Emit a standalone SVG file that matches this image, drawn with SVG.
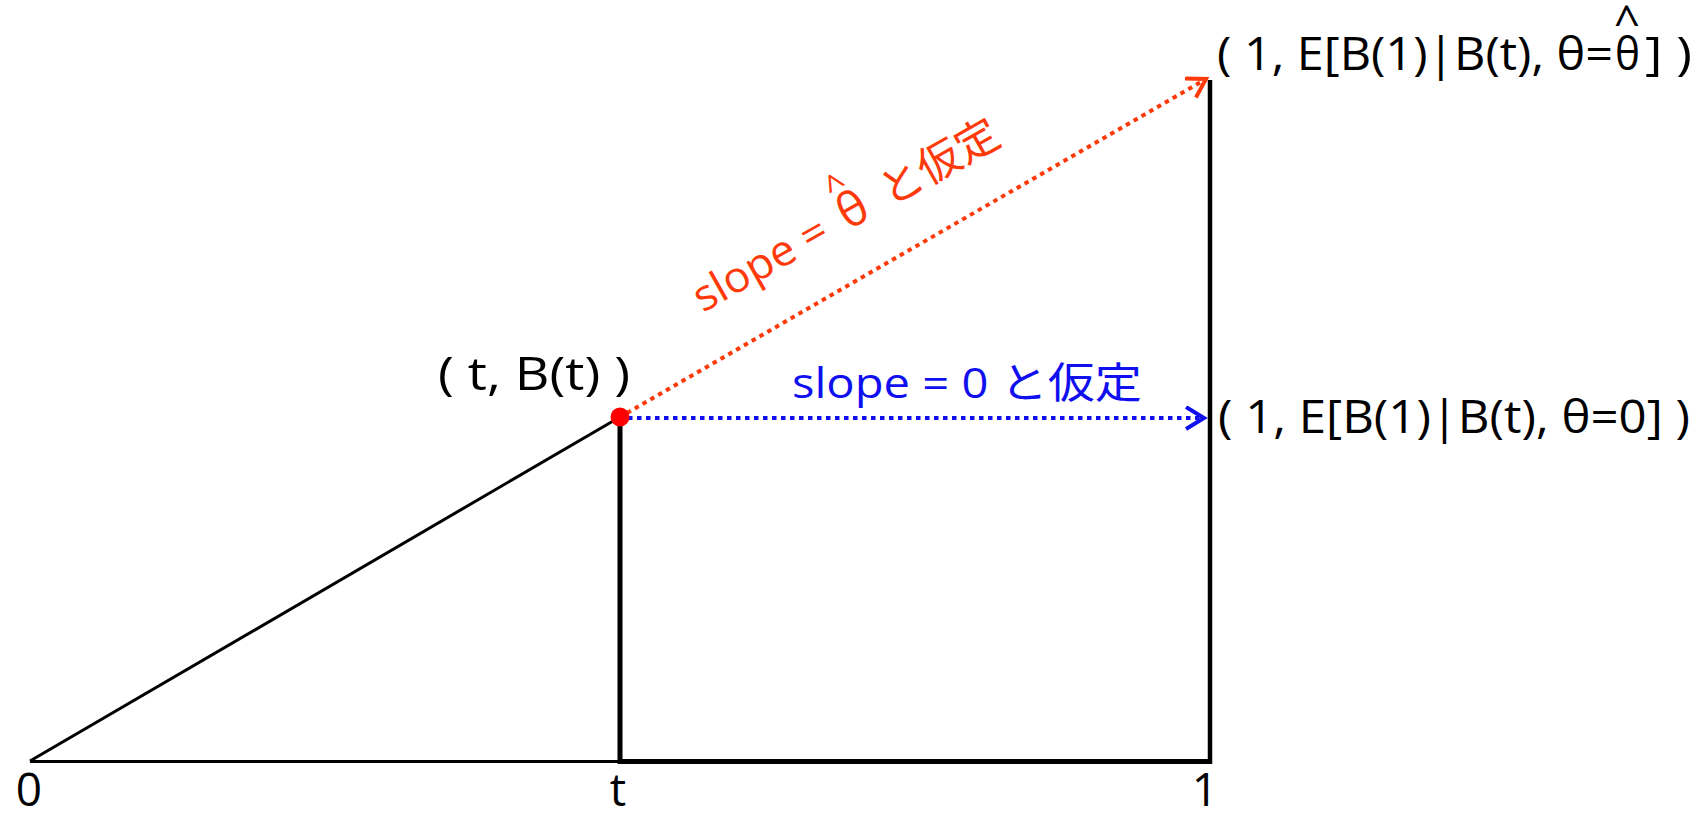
<svg xmlns="http://www.w3.org/2000/svg" width="1704" height="818" viewBox="0 0 1704 818">
<style>
text{font-family:"Comic Sans MS","Open Sans","Noto Sans CJK JP",sans-serif;}
.lbl{fill:#000;font-size:46px;}
.red{fill:#FF3A0A;}
.blue{fill:#0F0FF0;}
.axis{stroke:#000;fill:none;stroke-linecap:butt;}
</style>
<defs>
<marker id="arrRed" markerUnits="userSpaceOnUse" markerWidth="24" markerHeight="26" refX="19" refY="12" orient="auto">
<path d="M1,1 L19,12 L1,23" fill="none" stroke="#FF3A0A" stroke-width="4" stroke-linejoin="miter"/>
</marker>
<marker id="arrBlue" markerUnits="userSpaceOnUse" markerWidth="24" markerHeight="26" refX="19" refY="12" orient="auto">
<path d="M1,1 L19,12 L1,23" fill="none" stroke="#0F0FF0" stroke-width="4" stroke-linejoin="miter"/>
</marker>
</defs>
<g id="connectors">
<line class="axis" x1="30" y1="761" x2="620" y2="417" stroke-width="3"/>
<line class="axis" x1="30" y1="761.5" x2="620" y2="761.5" stroke-width="3"/>
<line class="axis" x1="618" y1="761.5" x2="1212" y2="761.5" stroke-width="5"/>
<line class="axis" x1="620" y1="417" x2="620" y2="764" stroke-width="5"/>
<line class="axis" x1="1210" y1="80" x2="1210" y2="764" stroke-width="4.5"/>
<line x1="628" y1="418" x2="1204" y2="418" stroke="#0F0FF0" stroke-width="4" stroke-dasharray="4.5 4.5" marker-end="url(#arrBlue)"/>
<line x1="627" y1="413" x2="1206" y2="79" stroke="#FF3A0A" stroke-width="4" stroke-dasharray="4.5 4.5" marker-end="url(#arrRed)"/>
</g>
<g id="point-t">
<circle cx="620" cy="417" r="9.5" fill="#FF0000"/>
<text class="lbl" x="438" y="390" font-size="44" textLength="192" lengthAdjust="spacingAndGlyphs">( t, B(t) )</text>
</g>
<g id="point-hat">
<text class="lbl" x="1217" y="70" textLength="396" lengthAdjust="spacingAndGlyphs">( 1, E[B(1)|B(t), θ=</text>
<text class="lbl" x="1615" y="70" textLength="25" lengthAdjust="spacingAndGlyphs">θ</text>
<text class="lbl" x="1627" y="38" font-size="28" text-anchor="middle">^</text>
<text class="lbl" x="1645" y="70" textLength="47" lengthAdjust="spacingAndGlyphs">] )</text>
</g>
<g id="point-zero">
<text class="lbl" x="1218" y="433" textLength="472" lengthAdjust="spacingAndGlyphs">( 1, E[B(1)|B(t), θ=0] )</text>
</g>
<g id="label-blue">
<text class="blue" x="792" y="398" font-size="42" textLength="350" lengthAdjust="spacingAndGlyphs">slope = 0 と仮定</text>
</g>
<g id="label-red" transform="translate(703,313) rotate(-29.5)">
<text class="red" x="0" y="0" font-size="43" textLength="148" lengthAdjust="spacingAndGlyphs">slope =</text>
<text class="red" x="181" y="0" font-size="48" text-anchor="middle">θ</text>
<text class="red" x="178" y="-32" font-size="36" text-anchor="middle">^</text>
<text class="red" x="215" y="0" font-size="43" textLength="130" lengthAdjust="spacingAndGlyphs">と仮定</text>
</g>
<g id="axis-labels">
<text class="lbl" x="29" y="806" font-size="44" text-anchor="middle">0</text>
<text class="lbl" x="618" y="806" font-size="44" text-anchor="middle">t</text>
<text class="lbl" x="1205" y="806" font-size="44" text-anchor="middle">1</text>
</g>
</svg>
